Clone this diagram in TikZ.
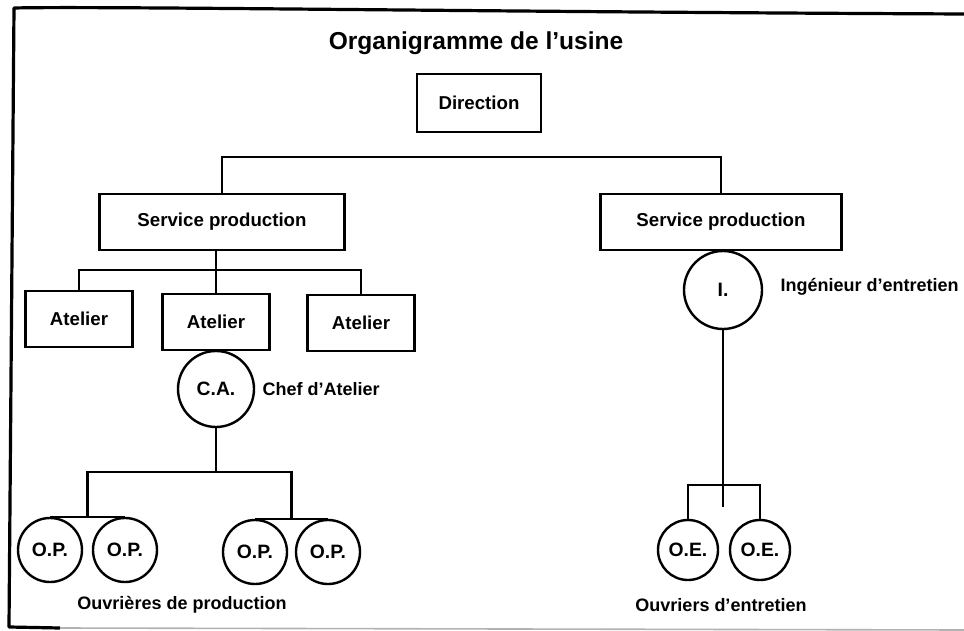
\documentclass[tikz,border=0pt]{standalone}
\usepackage{fontspec}
\setmainfont{Liberation Sans}
\tikzset{
	boite/.style={draw, line width=1.8pt, inner sep=0pt, minimum height=42pt, font=\bfseries\fontsize{14}{16}\selectfont},
	rond/.style={draw, circle, line width=1.8pt, inner sep=0pt, font=\bfseries\fontsize{14.5}{16}\selectfont},
	legende/.style={font=\bfseries\fontsize{13.5}{16}\selectfont},
	trait/.style={line width=1.8pt},
}
\begin{document}
\begin{tikzpicture}[x=0.75pt, y=-0.75pt]
		\useasboundingbox (0,0) rectangle (964,631);
		\draw[line width=2.4pt, line join=round] (966,14) .. controls (500,12) and (100,6) .. (14,8) -- (9,627) -- (60,628);
		\draw[line width=1.2pt, gray!60] (60,628) -- (964,630);

		\node[font=\bfseries\fontsize{18.4}{22}\selectfont] (titre) at (476,43) {Organigramme de l'usine};
		\node[boite, minimum width=93pt, minimum height=43.5pt] (dir) at (479,103) {Direction};

		\node[boite, minimum width=184pt] (sp1) at (222,222) {Service production};
		\node[boite, minimum width=181pt] (sp2) at (721,222) {Service production};
		\coordinate (bus) at (470,157);
		\draw[trait] (sp1.north) |- (bus) -| (sp2.north);

		\node[boite, minimum width=80pt] (at1) at (79,319) {Atelier};
		\node[boite, minimum width=80pt] (at2) at (216,322) {Atelier};
		\node[boite, minimum width=80pt] (at3) at (361,323) {Atelier};
		\coordinate (bus2) at (216,270);
		\draw[trait] (at1.north) |- (bus2) -| (at3.north);
		\draw[trait] (at2.north) -- (at2.north |- sp1.south);

		\node[rond, minimum size=57pt] (ca) at (216,389) {C.A.};
		\node[legende, anchor=west] (chef) at (258,389) {Chef d'Atelier};
		\draw[trait] (at2.south) -- (ca.north);

		\foreach \n/\x/\y in {1/50/550, 2/125/550, 3/255/552, 4/328/552}
			\node[rond, minimum size=48pt] (op\n) at (\x,\y) {O.P.};
		\draw[trait] (op1.north) -- (op2.north) coordinate[midway] (g1);
		\draw[trait] (op3.north) -- (op4.north) coordinate[midway] (g2);
		\coordinate (bus3) at (216,472);
		\draw[trait] (ca.south) -- (bus3);
		\draw[trait] (g1) |- (bus3) -| (g2);
		\node[legende] (ouvp) at (182,605) {Ouvrières de production};

		\node[rond, minimum size=58.5pt] (ing) at (723,290) {I.};
		\node[legende, anchor=west] (ingl) at (776,287) {Ingénieur d'entretien};
		\draw[trait] (ing.north) -- (ing.north |- sp2.south);

		\node[rond, minimum size=45pt] (oe1) at (688,550) {O.E.};
		\node[rond, minimum size=45pt] (oe2) at (760,550) {O.E.};
		\coordinate (bus4) at (723,485);
		\coordinate (fin) at (723,507);
		\draw[trait] (ing.south) -- (fin);
		\draw[trait] (oe1.north) |- (bus4) -| (oe2.north);
		\node[legende] (ouve) at (721,605) {Ouvriers d'entretien};
	\end{tikzpicture}
\end{document}
